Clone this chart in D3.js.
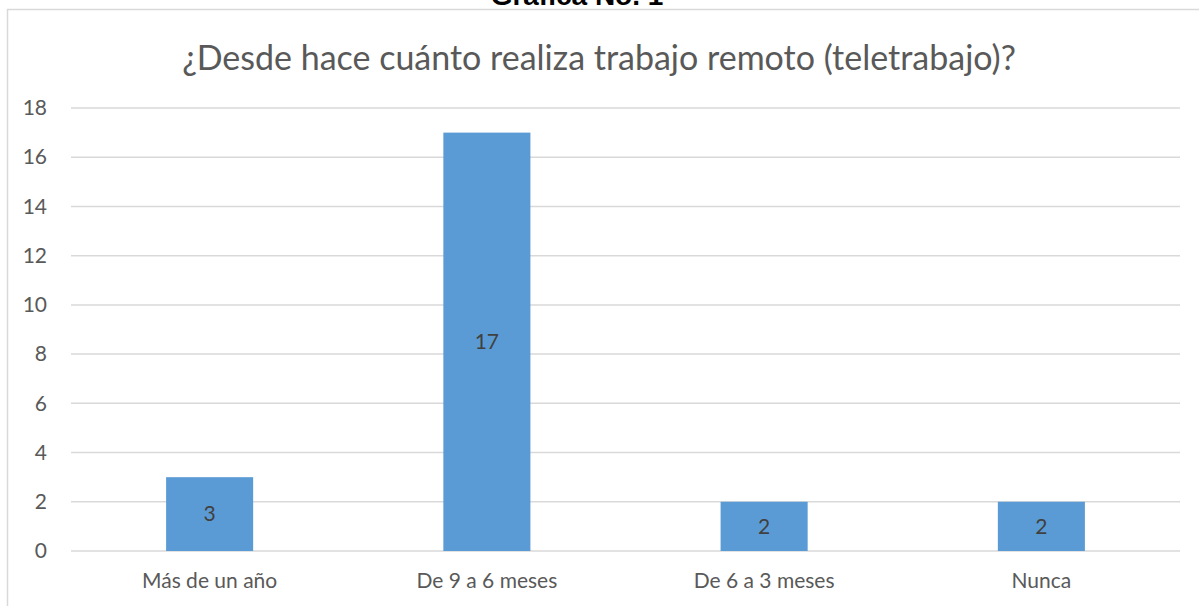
<!DOCTYPE html>
<html><head><meta charset="utf-8">
<script src="https://cdn.jsdelivr.net/npm/d3@7/dist/d3.min.js"></script>
<style>body{margin:0;background:#fff}svg{display:block}</style>
</head><body>
<svg id="c" width="1199" height="606"></svg>
<script>
const categories = ["Más de un año", "De 9 a 6 meses", "De 6 a 3 meses", "Nunca"];
const values = [3, 17, 2, 2];
const yTicks = [0, 2, 4, 6, 8, 10, 12, 14, 16, 18];
const chartTitle = "¿Desde hace cuánto realiza trabajo remoto (teletrabajo)?";
const pageTitle = "Gráfica No. 1";

const svg = d3.select("#c");
const font = "Lato, 'Noto Sans', sans-serif";

// page heading (cut off at top)
svg.append("text").attr("x", 577).attr("y", 5).attr("text-anchor", "middle")
  .attr("font-family", "'Liberation Sans', Arial, sans-serif").attr("font-weight", "bold")
  .attr("font-size", 28).attr("fill", "#000").text(pageTitle);

// chart frame
svg.append("rect").attr("x", 7.5).attr("y", 9.5).attr("width", 1210).attr("height", 620)
  .attr("fill", "#fff").attr("stroke", "#d9d9d9").attr("stroke-width", 1.5);

const pL = 71, pR = 1180, pT = 108, pB = 551;
const x = d3.scaleBand().domain(categories).range([pL, pR]).padding(0);
const y = d3.scaleLinear().domain([0, 18]).range([pB, pT]);

// gridlines
svg.append("g").selectAll("line").data(yTicks).join("line")
  .attr("x1", pL).attr("x2", pR)
  .attr("y1", d => y(d)).attr("y2", d => y(d))
  .attr("stroke", "#d9d9d9").attr("stroke-width", 1.5);

// y axis labels
const yAxis = d3.axisLeft(y).tickValues(yTicks).tickSize(0).tickPadding(0);
const ga = svg.append("g").attr("transform", `translate(47,0)`).call(yAxis);
ga.select(".domain").remove();
ga.selectAll("text").attr("font-family", font).attr("font-size", 21).attr("fill", "#595959");

// bars
const bw = x.bandwidth() * 0.314;
svg.append("g").selectAll("rect").data(values).join("rect")
  .attr("x", (d, i) => x(categories[i]) + x.bandwidth() / 2 - bw / 2)
  .attr("y", d => y(d)).attr("width", bw).attr("height", d => y(0) - y(d))
  .attr("fill", "#5b9bd5");

// bar value labels
svg.append("g").selectAll("text").data(values).join("text")
  .attr("x", (d, i) => x(categories[i]) + x.bandwidth() / 2)
  .attr("y", d => (y(d) + y(0)) / 2).attr("dy", "0.35em")
  .attr("text-anchor", "middle").attr("font-family", font).attr("font-size", 21)
  .attr("fill", "#404040").text(d => d);

// x axis labels
const xAxis = d3.axisBottom(x).tickSize(0).tickPadding(0);
const gx = svg.append("g").attr("transform", `translate(0,${pB + 22})`).call(xAxis);
gx.select(".domain").remove();
gx.selectAll("text").attr("font-family", font).attr("font-size", 21).attr("fill", "#595959").attr("dy", "0.71em");

// chart title
svg.append("text").attr("x", 599).attr("y", 70).attr("text-anchor", "middle")
  .attr("font-family", font).attr("font-size", 34).attr("fill", "#595959").text(chartTitle);
</script>
</body></html>
